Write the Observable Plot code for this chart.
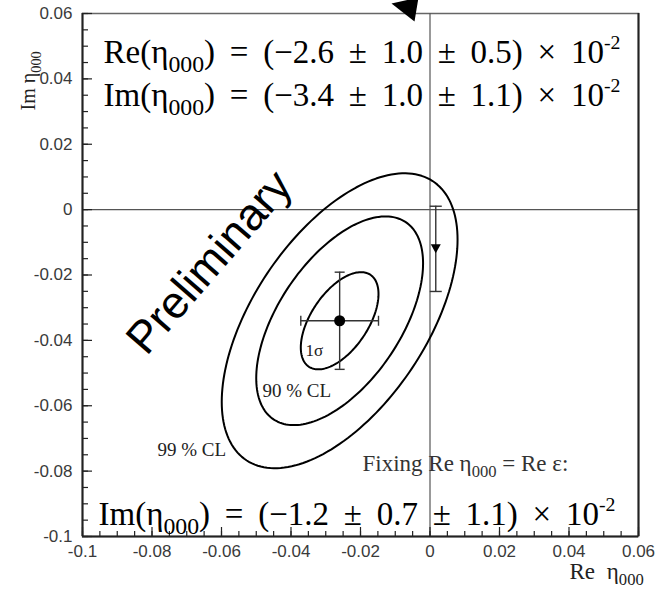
<!DOCTYPE html>
<html>
<head>
<meta charset="utf-8">
<script src="https://cdn.jsdelivr.net/npm/d3@7"></script>
<script src="https://cdn.jsdelivr.net/npm/@observablehq/plot@0.6"></script>
<style>
  html, body { margin: 0; padding: 0; background: #fff; overflow: hidden; }
  #chart svg { display: block; background: #fff; }
</style>
</head>
<body>
<div id="chart"></div>
<script>
// Two-parameter fit of η000 (values in units of 10^-2)
const fitParts = ["Re", "Im"];
const fitCentral = [-2.6, -3.4];
const fitStat = [1.0, 1.0];
const fitSyst = [0.5, 1.1];
const fitCorrelation = [0.55];

// Confidence contours: label and Δχ² level
const contourLabels = ["1σ", "90 % CL", "99 % CL"];
const contourDeltaChi2 = [1.0, 4.61, 9.21];

// One-parameter fit with Re η000 fixed to Re ε (units of 10^-2)
const fixedRe = [0.166];
const fixedIm = [-1.2, 0.7, 1.1]; // central, stat, syst

// Axis ticks
const xTicks = [-0.1, -0.08, -0.06, -0.04, -0.02, 0, 0.02, 0.04, 0.06];
const yTicks = [-0.1, -0.08, -0.06, -0.04, -0.02, 0, 0.02, 0.04, 0.06];
const tickLabels = ["-0.1", "-0.08", "-0.06", "-0.04", "-0.02", "0", "0.02", "0.04", "0.06"];

const W = 660, H = 591;
const M = {top: 13, right: 22, bottom: 55, left: 82};
const plotW = W - M.left - M.right, plotH = H - M.top - M.bottom;

const unit = 1e-2;
const quad = (a, b) => Math.hypot(a, b);

// Central fit point with total (stat ⊕ syst) errors
const fitPoint = [{
  x: fitCentral[0] * unit,
  y: fitCentral[1] * unit,
  ex: quad(fitStat[0], fitSyst[0]) * unit,
  ey: quad(fitStat[1], fitSyst[1]) * unit
}];
const fixedPoint = [{
  x: fixedRe[0] * unit,
  y: fixedIm[0] * unit,
  ey: quad(fixedIm[1], fixedIm[2]) * unit
}];

// Contour outlines of the correlated Gaussian likelihood
const rho = fitCorrelation[0];
const contours = contourDeltaChi2.flatMap((k, li) => {
  const s = Math.sqrt(k), p = fitPoint[0];
  return d3.range(0, 361, 2).map(deg => {
    const t = deg * Math.PI / 180;
    return {
      level: contourLabels[li],
      x: p.x + s * p.ex * Math.cos(t),
      y: p.y + s * p.ey * (rho * Math.cos(t) + Math.sqrt(1 - rho * rho) * Math.sin(t))
    };
  });
});

const xMinor = d3.range(0, 33).map(i => Math.round((-0.1 + i * 0.005) * 1000) / 1000);
const yMinor = xMinor;

// Custom symbols for error-bar caps and markers
const capV = {draw(ctx, size) { const r = Math.sqrt(size / Math.PI); ctx.moveTo(0, -r); ctx.lineTo(0, r); }};
const capH = {draw(ctx, size) { const r = Math.sqrt(size / Math.PI); ctx.moveTo(-r, 0); ctx.lineTo(r, 0); }};
const triDown = {draw(ctx, size) {
  const r = Math.sqrt(size / Math.PI) / 5;
  ctx.moveTo(-5 * r, -4.5 * r); ctx.lineTo(5 * r, -4.5 * r); ctx.lineTo(0, 4.5 * r); ctx.closePath();
}};
const arrowHead = {draw(ctx) {
  ctx.moveTo(-13, -5); ctx.lineTo(14, -11); ctx.lineTo(10, 13); ctx.closePath();
}};

const fmt = v => (v < 0 ? "−" : "") + Math.abs(v).toFixed(1);
const resultText = (part, c, st, sy) =>
  `${part}(η_{000}) = (${fmt(c)} ± ${st.toFixed(1)} ± ${sy.toFixed(1)}) × 10^{-2}`;

const serif = "Liberation Serif, Times New Roman, serif";
const sans = "Liberation Sans, Arial, Helvetica, sans-serif";

// Annotation placed relative to the top-left corner of the frame
const note = (str, o) => Plot.text([str], {
  frameAnchor: "top-left", text: d => d, textAnchor: "start", lineAnchor: "bottom",
  fontFamily: serif, fill: "#000", ...o
});

const line1 = resultText(fitParts[0], fitCentral[0], fitStat[0], fitSyst[0]);
const line2 = resultText(fitParts[1], fitCentral[1], fitStat[1], fitSyst[1]);
const line3 = resultText("Im", fixedIm[0], fixedIm[1], fixedIm[2]);
const reTitle = "Re η_{000}";
const wordSpacing = new Map([[line1, 6.5], [line2, 6.5], [line3, 6.5], [reTitle, 6]]);

const chart = Plot.plot({
  width: W, height: H,
  marginTop: M.top, marginRight: M.right, marginBottom: M.bottom, marginLeft: M.left,
  style: {fontFamily: sans, fontSize: "17px", color: "#3a3a3a", background: "#fff"},
  x: {domain: [-0.1, 0.06], ticks: xTicks, tickFormat: d => tickLabels[xTicks.indexOf(d)],
      tickSize: 0, tickPadding: 8, label: null},
  y: {domain: [-0.1, 0.06], ticks: yTicks, tickFormat: d => tickLabels[yTicks.indexOf(d)],
      tickSize: 0, tickPadding: 10, label: null},
  marks: [
    // frame and zero lines
    Plot.frame({stroke: "#666", strokeWidth: 1.5}),
    Plot.ruleX([0], {stroke: "#555", strokeWidth: 1.2}),
    Plot.ruleY([0], {stroke: "#555", strokeWidth: 1.2}),
    Plot.ruleX([xTicks[0], xTicks[xTicks.length - 1]], {stroke: "#222", strokeWidth: 2}),
    Plot.ruleY([yTicks[0]], {stroke: "#222", strokeWidth: 2}),
    // inward ticks
    Plot.ruleX(xMinor, {stroke: "#222", strokeWidth: 1.2, insetTop: plotH - 5}),
    Plot.ruleX(xTicks, {stroke: "#222", strokeWidth: 1.2, insetTop: plotH - 9}),
    Plot.ruleY(yMinor, {stroke: "#222", strokeWidth: 1.2, insetRight: plotW - 6}),
    Plot.ruleY(yTicks, {stroke: "#222", strokeWidth: 1.2, insetRight: plotW - 10}),
    // contours
    Plot.line(contours, {x: "x", y: "y", z: "level", curve: "linear-closed",
                         stroke: "#000", strokeWidth: 2}),
    // error bars of the two-parameter fit
    Plot.ruleY(fitPoint, {y: "y", x1: d => d.x - d.ex, x2: d => d.x + d.ex, stroke: "#333", strokeWidth: 1.4}),
    Plot.ruleX(fitPoint, {x: "x", y1: d => d.y - d.ey, y2: d => d.y + d.ey, stroke: "#333", strokeWidth: 1.4}),
    Plot.dot(fitPoint.flatMap(d => [{x: d.x - d.ex, y: d.y}, {x: d.x + d.ex, y: d.y}]),
             {x: "x", y: "y", symbol: capV, r: 5, stroke: "#333", strokeWidth: 1.4}),
    Plot.dot(fitPoint.flatMap(d => [{x: d.x, y: d.y - d.ey}, {x: d.x, y: d.y + d.ey}]),
             {x: "x", y: "y", symbol: capH, r: 5, stroke: "#333", strokeWidth: 1.4}),
    Plot.dot(fitPoint, {x: "x", y: "y", r: 5.5, fill: "#000"}),
    // fixed Re η000 = Re ε result
    Plot.ruleX(fixedPoint, {x: "x", y1: d => d.y - d.ey, y2: d => d.y + d.ey, stroke: "#333", strokeWidth: 1.4}),
    Plot.dot(fixedPoint.flatMap(d => [{x: d.x, y: d.y - d.ey}, {x: d.x, y: d.y + d.ey}]),
             {x: "x", y: "y", symbol: capH, r: 6, stroke: "#333", strokeWidth: 1.4}),
    Plot.dot(fixedPoint, {x: "x", y: "y", symbol: triDown, r: 5, fill: "#000", stroke: "none"}),
    // arrow head above the frame
    Plot.dot([0], {frameAnchor: "top-left", dx: 322, dy: -5, symbol: arrowHead, fill: "#000", stroke: "none"}),
    // results
    note(line1, {dx: 21, dy: 49, fontSize: 33}),
    note(line2, {dx: 21, dy: 92, fontSize: 33}),
    note(line3, {dx: 16, dy: 511, fontSize: 33}),
    note("Fixing Re η_{000} = Re ε:", {dx: 280, dy: 457, fontSize: 23, fill: "#333"}),
    // contour labels
    note(contourLabels[0], {dx: 223, dy: 342, fontSize: 17, fill: "#222"}),
    note(contourLabels[1], {dx: 180, dy: 383, fontSize: 19, fill: "#222"}),
    note(contourLabels[2], {dx: 75, dy: 442, fontSize: 19, fill: "#222"}),
    // watermark
    Plot.text(["Preliminary"], {frameAnchor: "top-left", text: d => d, dx: 127, dy: 249,
      rotate: -49, fontSize: 45, fontFamily: sans, fill: "#000", textAnchor: "middle", lineAnchor: "middle"}),
    // axis titles
    note(reTitle, {dx: 487, dy: 565, fontSize: 23, fill: "#222"}),
    note("Im η_{000}", {dx: -48, dy: 97, fontSize: 20, fill: "#222", rotate: -90})
  ]
});

document.getElementById("chart").append(chart);

// Turn _{..} and ^{..} markup into subscript / superscript tspans
function richText(svg) {
  svg.querySelectorAll("text").forEach(t => {
    const s = t.textContent;
    if (wordSpacing.has(s)) t.style.wordSpacing = wordSpacing.get(s) + "px";
    if (!/[_^]\{/.test(s)) return;
    const size = parseFloat(getComputedStyle(t).fontSize) || 16;
    const parts = [];
    const re = /([_^])\{([^}]*)\}/g;
    let last = 0, m;
    while ((m = re.exec(s))) {
      if (m.index > last) parts.push({str: s.slice(last, m.index), kind: "n"});
      parts.push({str: m[2], kind: m[1] === "_" ? "sub" : "sup"});
      last = re.lastIndex;
    }
    if (last < s.length) parts.push({str: s.slice(last), kind: "n"});
    t.textContent = "";
    let cur = 0;
    for (const p of parts) {
      const target = p.kind === "sub" ? 0.3 * size : p.kind === "sup" ? -0.42 * size : 0;
      const ts = document.createElementNS("http://www.w3.org/2000/svg", "tspan");
      if (target !== cur) ts.setAttribute("dy", (target - cur).toFixed(2));
      if (p.kind === "sub") ts.setAttribute("font-size", (0.72 * size).toFixed(1));
      if (p.kind === "sup") ts.setAttribute("font-size", (0.6 * size).toFixed(1));
      ts.textContent = p.str;
      t.appendChild(ts);
      cur = target;
    }
  });
}
richText(chart);
</script>
</body>
</html>
